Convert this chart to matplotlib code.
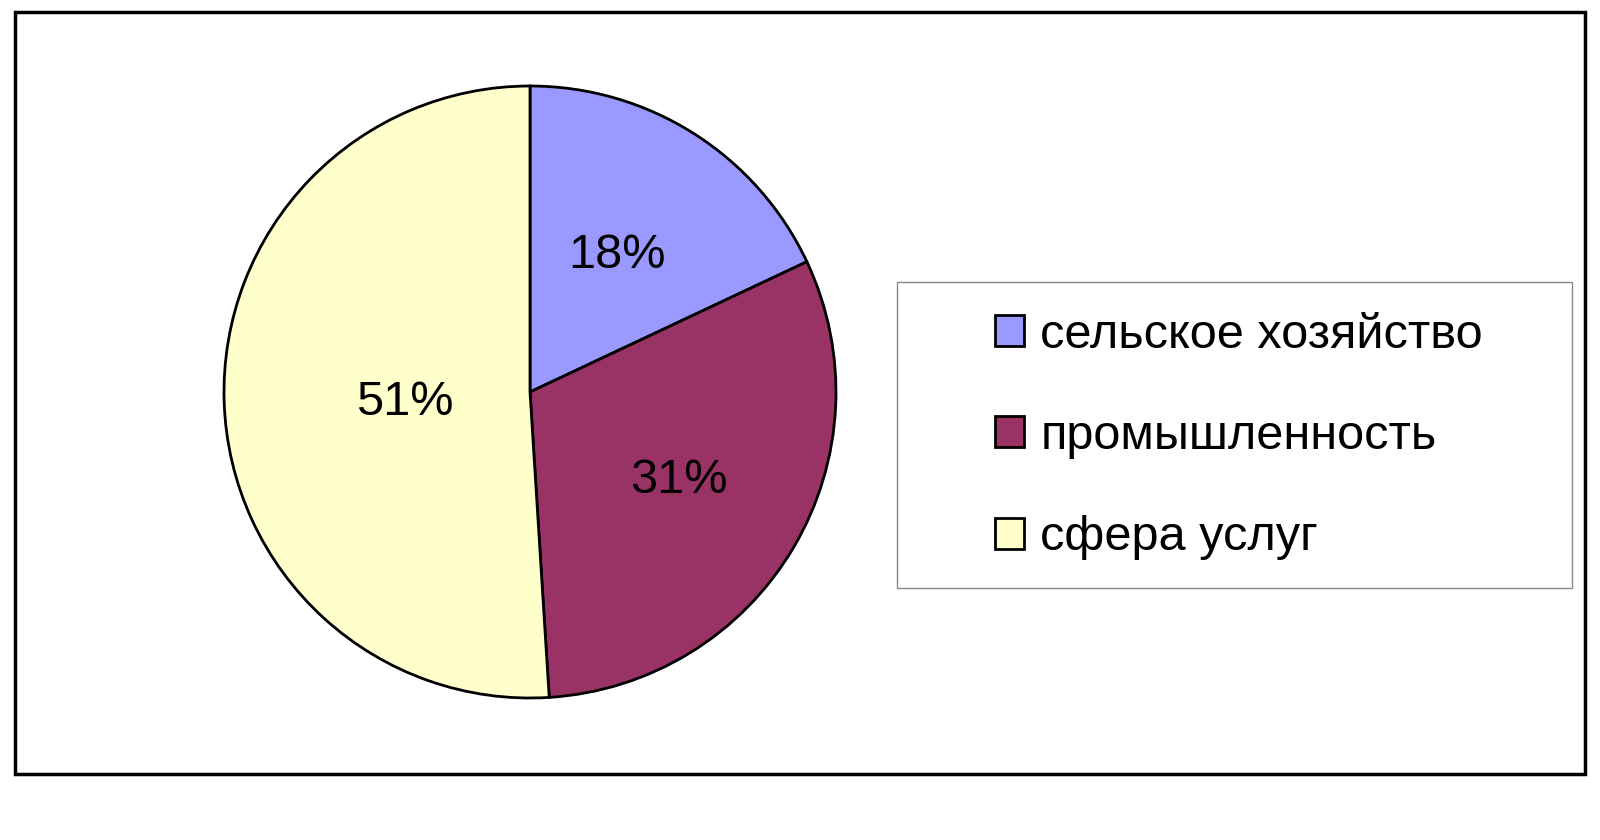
import matplotlib
matplotlib.use("Agg")
import matplotlib.pyplot as plt
from matplotlib.patches import Rectangle

plt.rcParams['font.family'] = ['Liberation Sans', 'DejaVu Sans']

categories = ["сельское хозяйство", "промышленность", "сфера услуг"]
values = [18, 31, 51]
colors = ["#9999FF", "#993366", "#FFFFCC"]

W, H = 1600, 840
fig = plt.figure(figsize=(16, 8.4), dpi=100)
fig.patch.set_facecolor("white")

# outer frame
fig.patches.append(Rectangle((15 / W, 1 - 774 / H), (1585 - 15) / W, (774 - 12) / H,
                             transform=fig.transFigure, fill=False, edgecolor="black",
                             linewidth=2.5, zorder=0))

cx, cy, r = 530, 392, 306
ax = fig.add_axes([(cx - r) / W, (H - cy - r) / H, 2 * r / W, 2 * r / H])
wedges, texts, autotexts = ax.pie(values, colors=colors, startangle=90, counterclock=False,
                                  autopct=lambda p: f"{p:.0f}%", pctdistance=0.55,
                                  wedgeprops=dict(edgecolor="black", linewidth=2),
                                  textprops=dict(fontsize=35, color="black"))
# label distances as in the reference
for t, d, dy in zip(autotexts, [0.53, 0.565, 0.41], [0.0, 0.0, -0.02]):
    x, y = t.get_position()
    t.set_position((x * d / 0.55, y * d / 0.55 + dy))
for w in wedges:
    w.set_clip_on(False)
ax.set_xlim(-1.0, 1.0)
ax.set_ylim(-1.0, 1.0)
ax.set_aspect("equal")
ax.axis("off")

# legend frame
fig.patches.append(Rectangle((897 / W, 1 - 588 / H), (1572 - 897) / W, (588 - 282) / H,
                             transform=fig.transFigure, fill=False, edgecolor="#888888",
                             linewidth=1, zorder=0))
leg = fig.legend(wedges, categories, loc="center left",
                 bbox_to_anchor=(995 / W, 1 - 436.5 / H), frameon=False,
                 fontsize=35, handlelength=0.6, handleheight=0.6, handletextpad=0.33,
                 labelspacing=1.16, borderpad=0, borderaxespad=0)
for h in leg.legend_handles:
    h.set_linewidth(2)

fig.savefig("out.png", dpi=100, facecolor="white")
